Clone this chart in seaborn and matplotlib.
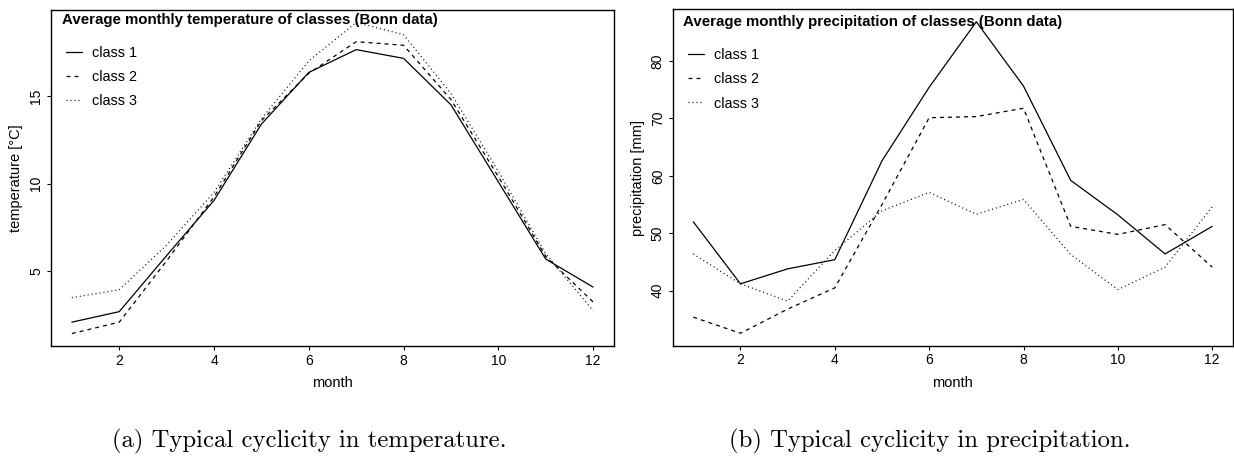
import numpy as np
import pandas as pd
import matplotlib
matplotlib.use("Agg")
import matplotlib.pyplot as plt
import seaborn as sns

# Monthly averages per class (Bonn data)
months = list(range(1, 13))
classes = ["class 1", "class 2", "class 3"]

temp_class1 = [2.1, 2.7, 5.9, 9.05, 13.4, 16.35, 17.65, 17.15, 14.5, 10.1, 5.7, 4.1]
temp_class2 = [1.45, 2.1, 5.6, 9.25, 13.6, 16.3, 18.1, 17.9, 14.8, 10.4, 5.85, 3.25]
temp_class3 = [3.5, 3.95, 6.5, 9.5, 13.7, 17.0, 19.2, 18.5, 15.15, 10.7, 6.0, 2.75]

prec_class1 = [52.0, 41.2, 43.8, 45.4, 62.6, 75.4, 86.8, 75.6, 59.2, 53.2, 46.4, 51.2]
prec_class2 = [35.4, 32.6, 36.8, 40.5, 55.0, 70.1, 70.3, 71.75, 51.2, 49.8, 51.5, 44.1]
prec_class3 = [46.4, 41.2, 38.2, 47.0, 53.9, 57.1, 53.3, 55.9, 46.3, 40.2, 44.1, 54.6]

titles = ["Average monthly temperature of classes (Bonn data)",
          "Average monthly precipitation of classes (Bonn data)"]
ylabels = ["temperature [\u00b0C]", "precipitation [mm]"]
captions = ["(a) Typical cyclicity in temperature.",
            "(b) Typical cyclicity in precipitation."]
xticks = [2, 4, 6, 8, 10, 12]
yticks_temp = [5, 10, 15]
yticks_prec = [40, 50, 60, 70, 80]


def long_frame(series, name):
    rows = []
    for cls, vals in zip(classes, series):
        for m, v in zip(months, vals):
            rows.append({"month": m, name: v, "class": cls})
    return pd.DataFrame(rows)


temp_df = long_frame([temp_class1, temp_class2, temp_class3], "value")
prec_df = long_frame([prec_class1, prec_class2, prec_class3], "value")

sns.set_theme(style="ticks")
plt.rcParams["font.family"] = ["Liberation Sans", "DejaVu Sans"]
plt.rcParams.update({
    "lines.scale_dashes": True,
    "text.color": "black",
    "axes.labelcolor": "black",
    "xtick.color": "black",
    "ytick.color": "black",
    "xtick.labelcolor": "black",
    "ytick.labelcolor": "black",
})

fig = plt.figure(figsize=(12.34, 4.62), dpi=100)
fig.patch.set_facecolor("white")

W, H = 1234, 462
ax_boxes = [(51, 10, 614, 346), (672.5, 9.3, 1233, 345.7)]
legend_anchor = [(0.0266, 0.893), (0.028, 0.884)]
title_pos = [(0.0195, 0.970), (0.019, 0.963)]
caption_x = [309, 930]

dash_map = {"class 1": "", "class 2": (3.2, 3.2), "class 3": (0.8, 2.4)}

for i, (df, yt) in enumerate([(temp_df, yticks_temp), (prec_df, yticks_prec)]):
    x0, y0, x1, y1 = ax_boxes[i]
    ax = fig.add_axes([x0 / W, (H - y1) / H, (x1 - x0) / W, (y1 - y0) / H])
    sns.lineplot(data=df, x="month", y="value", style="class", dashes=dash_map,
                 color="black", linewidth=0.9, ax=ax, legend=True)

    # 4% padding around the data range on both axes
    vmin, vmax = df["value"].min(), df["value"].max()
    pad = 0.04 * (vmax - vmin)
    ax.set_ylim(vmin - pad, vmax + pad)
    ax.set_xlim(1 - 0.44, 12 + 0.44)

    ax.set_xticks(xticks)
    ax.set_yticks(yt)
    ax.tick_params(axis="both", direction="out", length=3, width=0.8,
                   labelsize=10, pad=2.5, color="black")
    for lab in ax.get_yticklabels():
        lab.set_rotation(90)
        lab.set_va("center")

    for sp in ax.spines.values():
        sp.set_visible(True)
        sp.set_color("black")
        sp.set_linewidth(1.0)

    ax.set_xlabel("month", fontsize=10.5)
    ax.set_ylabel(ylabels[i], fontsize=10.5)
    ax.xaxis.set_label_coords(0.5, -0.090)
    ax.yaxis.set_label_coords(-0.049, 0.5)

    ax.text(title_pos[i][0], title_pos[i][1], titles[i], transform=ax.transAxes,
            fontsize=10.85, fontweight="bold", ha="left", va="center")

    sns.move_legend(ax, "upper left", bbox_to_anchor=legend_anchor[i],
                    frameon=False, title=None, fontsize=10.4, borderaxespad=0,
                    borderpad=0, handlelength=1.1, handletextpad=0.7,
                    labelspacing=0.7)

    fig.text(caption_x[i] / W, 1 - 441 / H, captions[i], family="cmr10",
             fontsize=17.8, ha="center", va="center")

fig.savefig("out.png", dpi=100, facecolor="white")
